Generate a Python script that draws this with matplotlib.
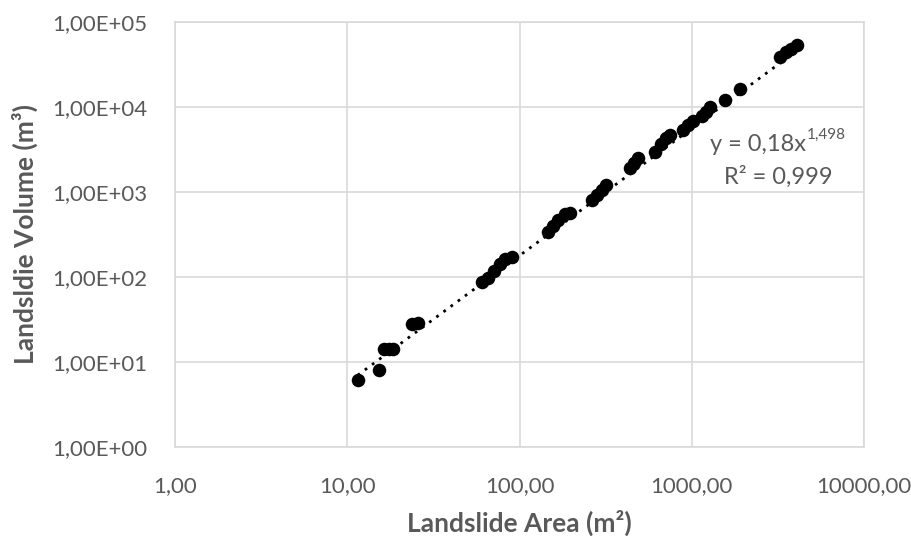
import numpy as np
import matplotlib
matplotlib.use("Agg")
import matplotlib.pyplot as plt
from matplotlib.ticker import FixedLocator, NullLocator
from matplotlib.transforms import offset_copy

plt.rcParams['font.family'] = ['Lato', 'DejaVu Sans']

area = [11.5, 15.3, 16.3, 17.5, 18.4, 23.7, 25.7,
        60.5, 65.6, 71.0, 76.9, 82.3, 90.3,
        146, 156, 167, 183, 196,
        263, 281, 301, 317,
        437, 461, 487,
        611, 662, 707, 746,
        888, 949, 1015, 1144, 1208, 1274,
        1556, 1901,
        3246, 3515, 3758, 4074]
volume = [6.1, 8.05, 14.2, 14.2, 14.3, 28.0, 28.8,
          87.3, 97.3, 117.7, 142, 163, 172,
          338, 398, 469, 551, 566,
          805, 922, 1056, 1208,
          1916, 2194, 2512,
          2955, 3673, 4318, 4688,
          5358, 6138, 6839, 7838, 8735, 10000,
          12080, 16290,
          38730, 44370, 48100, 53600]

fit_a = 0.18
fit_b = 1.498

x_ticks = [1, 10, 100, 1000, 10000]
x_tick_labels = ["1,00", "10,00", "100,00", "1000,00", "10000,00"]
y_ticks = [1, 10, 100, 1000, 10000, 100000]
y_tick_labels = ["1,00E+00", "1,00E+01", "1,00E+02", "1,00E+03", "1,00E+04", "1,00E+05"]

grey = '#595959'
grid = '#d9d9d9'

fig = plt.figure(figsize=(9.12, 5.38), dpi=100)
ax = fig.add_axes([175/912, 1-447/538, (864-175)/912, (447-22)/538])
ax.set_xscale('log')
ax.set_yscale('log')
ax.set_xlim(x_ticks[0], x_ticks[-1])
ax.set_ylim(y_ticks[0], y_ticks[-1])

xf = np.geomspace(min(area), max(area), 200)
ax.plot(xf, fit_a * xf ** fit_b, color='black', linestyle=(0, (1, 2.2)), linewidth=2.0, zorder=2)
ax.scatter(area, volume, s=95, color='black', zorder=3, linewidths=0)

ax.xaxis.set_major_locator(FixedLocator(x_ticks))
ax.xaxis.set_minor_locator(NullLocator())
ax.yaxis.set_major_locator(FixedLocator(y_ticks))
ax.yaxis.set_minor_locator(NullLocator())
ax.set_xticklabels(x_tick_labels)
ax.set_yticklabels(y_tick_labels)
ax.tick_params(axis='both', length=0, labelsize=16, colors=grey)
ax.tick_params(axis='x', pad=21)
ax.tick_params(axis='y', pad=20)
ax.grid(True, color=grid, linewidth=1.2, zorder=0)
ax.set_axisbelow(True)
for s in ax.spines.values():
    s.set_color(grid)
    s.set_linewidth(1.2)

ax.set_xlabel("Landslide Area (m²)", fontsize=19, fontweight='bold', color=grey, labelpad=10)
ax.set_ylabel("Landsldie Volume (m³)", fontsize=19, fontweight='bold', color=grey, labelpad=10)

eq = ax.text(0.846, 0.711, "y = 0,18x", transform=ax.transAxes,
             fontsize=17, color=grey, ha='center', va='center')
fig.canvas.draw()
bb = eq.get_window_extent()
inv = ax.transAxes.inverted()
x_end, y_mid = inv.transform((bb.x1, (bb.y0 + bb.y1) / 2))
ax.text(x_end + 0.002, 0.711, "1,498", transform=offset_copy(ax.transAxes, fig=fig, x=0, y=7, units='points'),
        fontsize=11, color=grey, ha='left', va='center')
ax.text(0.875, 0.635, "R² = 0,999", transform=ax.transAxes,
        fontsize=17, color=grey, ha='center', va='center')

fig.savefig("out.png", dpi=100, facecolor='white')
